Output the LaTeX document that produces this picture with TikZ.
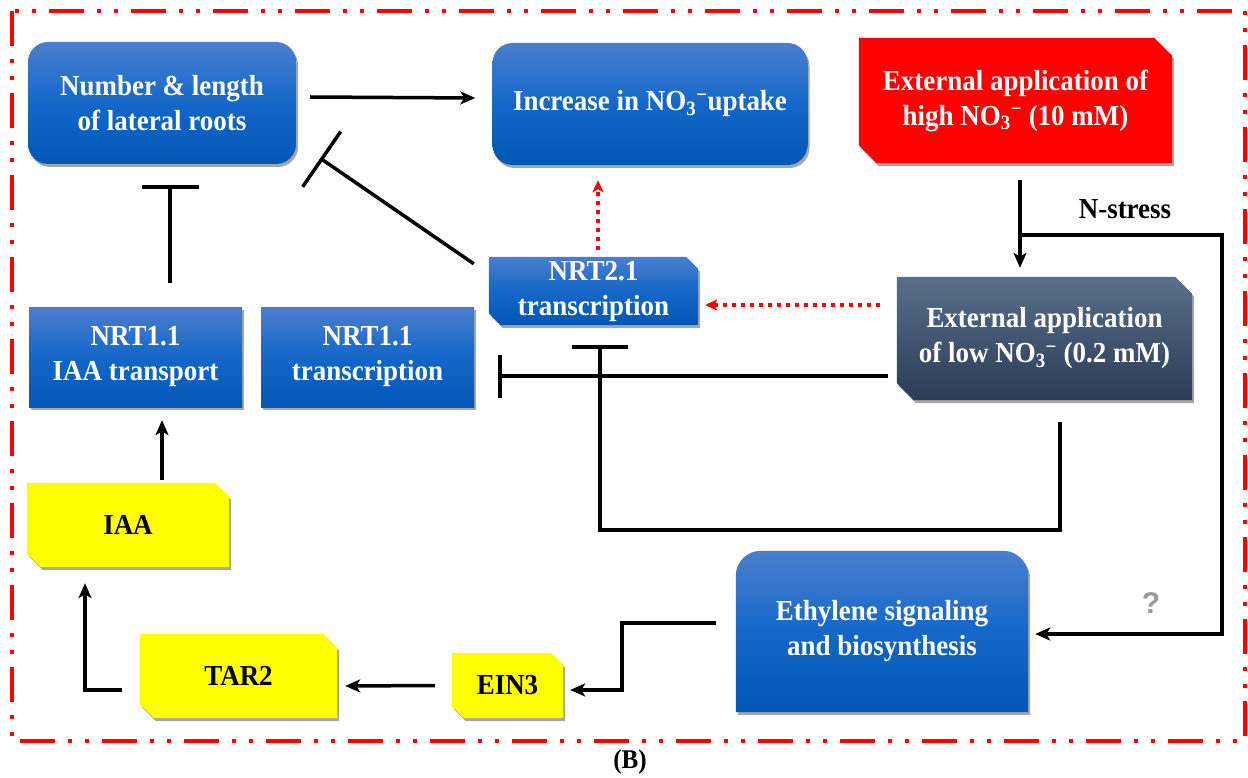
\documentclass[tikz,border=0pt]{standalone}
\usepackage{fontspec}
\setmainfont{Liberation Serif}[FakeStretch=0.93]
\newfontfamily\qfont{Liberation Sans}
\usetikzlibrary{arrows.meta,shadows,backgrounds,calc}
\definecolor{bTop}{HTML}{4A7FCF}
\definecolor{bMid}{HTML}{1467C8}
\definecolor{bBot}{HTML}{0057B6}
\definecolor{sTop}{HTML}{5A6F8A}
\definecolor{sBot}{HTML}{2A3C56}
\definecolor{redbox}{HTML}{FF0000}
\definecolor{ylw}{HTML}{FFFF00}
\definecolor{qgray}{HTML}{9A9A9A}
\newcommand\chamf[3]{\path[#3] (#1.north west) -- ([xshift=-#2]#1.north east) -- ([yshift=-#2]#1.north east) -- (#1.south east) -- ([xshift=#2]#1.south west) -- ([yshift=#2]#1.south west) -- cycle;}
\begin{document}
\begin{tikzpicture}[x=1pt,y=-1pt,
  txt/.style={align=center, font=\bfseries\fontsize{29}{35}\selectfont, inner sep=0pt},
  wtxt/.style={txt, text=white},
  btxt/.style={txt, text=black},
  blueshade/.style={top color=bTop, bottom color=bBot, middle color=bMid},
  slateshade/.style={top color=sTop, bottom color=sBot},
  shad/.style={drop shadow={opacity=0.35, shadow xshift=2pt, shadow yshift=-3pt, fill=black}},
  arr/.style={line width=3.5pt, -{Stealth[length=15pt,width=13pt,inset=4pt]}},
  inh/.style={line width=3.5pt, -{Bar[width=#1]}},
  rdot/.style={draw=red, line width=3.5pt, dash pattern=on 4pt off 5pt, -{Stealth[length=12pt,width=11pt,inset=3pt]}}
]
\useasboundingbox (0,0) rectangle (1248,778);

% frame
\draw[red, line width=4pt, dash pattern=on 35pt off 13pt on 4pt off 13pt on 4pt off 13pt] (12,11) rectangle (1245,741);

% nodes
\node[wtxt, rectangle, rounded corners=20pt, minimum width=268pt, minimum height=122pt, blueshade, shad] (num) at (162,103) {Number \& length\\of lateral roots};
\node[wtxt, rectangle, rounded corners=20pt, minimum width=315pt, minimum height=122pt, blueshade, shad] (inc) at (650,104) {Increase in NO\textsubscript{3}\textsuperscript{−}uptake};
\node[wtxt, minimum width=313pt, minimum height=125pt] (high) at (1015.5,100.5) {External application of\\high NO\textsubscript{3}\textsuperscript{−} (10 mM)};
\node[wtxt, minimum width=209pt, minimum height=68pt] (nrt2) at (593.5,291) {NRT2.1\\transcription};
\node[wtxt, minimum width=295pt, minimum height=123pt] (low) at (1044.5,338.5) {External application\\of low NO\textsubscript{3}\textsuperscript{−} (0.2 mM)};
\node[wtxt, rectangle, minimum width=213pt, minimum height=100pt, blueshade, shad] (iaat) at (135.5,357) {NRT1.1\\IAA transport};
\node[wtxt, rectangle, minimum width=213pt, minimum height=100pt, blueshade, shad] (nrtt) at (367.5,357) {NRT1.1\\transcription};
\node[btxt, minimum width=202pt, minimum height=84pt] (iaa) at (128,525) {IAA};
\node[btxt, minimum width=197pt, minimum height=84pt] (tar2) at (238.5,676) {TAR2};
\node[btxt, minimum width=111pt, minimum height=65pt] (ein3) at (507.5,685.5) {EIN3};
\node[wtxt, minimum width=292pt, minimum height=161pt] (eth) at (882,631.5) {Ethylene signaling\\and biosynthesis};

\node[txt] (ns) at (1125,209) {N-stress};
\node[font=\qfont\bfseries\fontsize{30}{34}\selectfont, text=qgray, inner sep=0pt] (q) at (1151,603) {?};
\node[font=\bfseries\fontsize{27}{30}\selectfont, inner sep=0pt] (lbl) at (630,762) {(B)};

% background shapes
\begin{scope}[on background layer]
\fill[white] (0,0) rectangle (1248,778);
\chamf{high}{18pt}{fill=redbox, shad}
\chamf{nrt2}{12pt}{blueshade, shad}
\chamf{low}{17pt}{slateshade, shad}
\chamf{iaa}{14pt}{fill=ylw, shad}
\chamf{tar2}{14pt}{fill=ylw, shad}
\chamf{ein3}{12pt}{fill=ylw, shad}
\path[blueshade, shad] (eth.south west) -- ([yshift=-25pt]eth.north west) arc[start angle=180,end angle=90,radius=25pt] -- ([xshift=-25pt]eth.north east) arc[start angle=90,end angle=0,radius=25pt] -- (eth.south east) -- cycle;
\end{scope}

% connectors
\draw[arr] ([shift={(14pt,6pt)}]num.east) -- ([shift={(-17pt,6pt)}]inc.west);
\draw[inh=57pt] ([shift={(34.5pt,24pt)}]iaat.north) -- ([shift={(8pt,-21pt)}]num.south);
\draw[inh=67pt] ([shift={(-15pt,-7pt)}]nrt2.north west) -- ([shift={(24pt,6pt)}]num.south east);
\draw[rdot] ([shift={(4.5pt,7pt)}]nrt2.north) -- ([shift={(-52pt,-15pt)}]inc.south);
\draw[rdot] ([shift={(-17pt,33.5pt)}]low.west) -- ([shift={(7pt,-14pt)}]nrt2.east);
\draw[inh=43pt] ([shift={(-9pt,-37.5pt)}]low.west) -- ([shift={(24pt,-19pt)}]nrtt.east);
\draw[inh=56pt] ([shift={(15.5pt,-22pt)}]low.south) -- ++(0,-108pt) -| ([shift={(6.5pt,-20pt)}]nrt2.south);
\draw[arr] ([shift={(4.5pt,-17pt)}]high.south) -- ([shift={(-24.5pt,9pt)}]low.north);
\draw[arr] ([shift={(4.5pt,-72pt)}]high.south) -- ++(202pt,0) |- ([shift={(7pt,-2.5pt)}]eth.east);
\draw[arr] ([shift={(-20pt,8.5pt)}]eth.west) -- ++(-94pt,0) |- ([shift={(7pt,-4.5pt)}]ein3.east);
\draw[arr] ([shift={(-17pt,0pt)}]ein3.west) -- ([shift={(8pt,-10pt)}]tar2.east);
\draw[arr] ([shift={(-18pt,-14pt)}]tar2.west) -| ([shift={(-43pt,-16pt)}]iaa.south);
\draw[arr] ([shift={(34pt,3pt)}]iaa.north) -- ([shift={(26.5pt,-13pt)}]iaat.south);
\end{tikzpicture}
\end{document}
